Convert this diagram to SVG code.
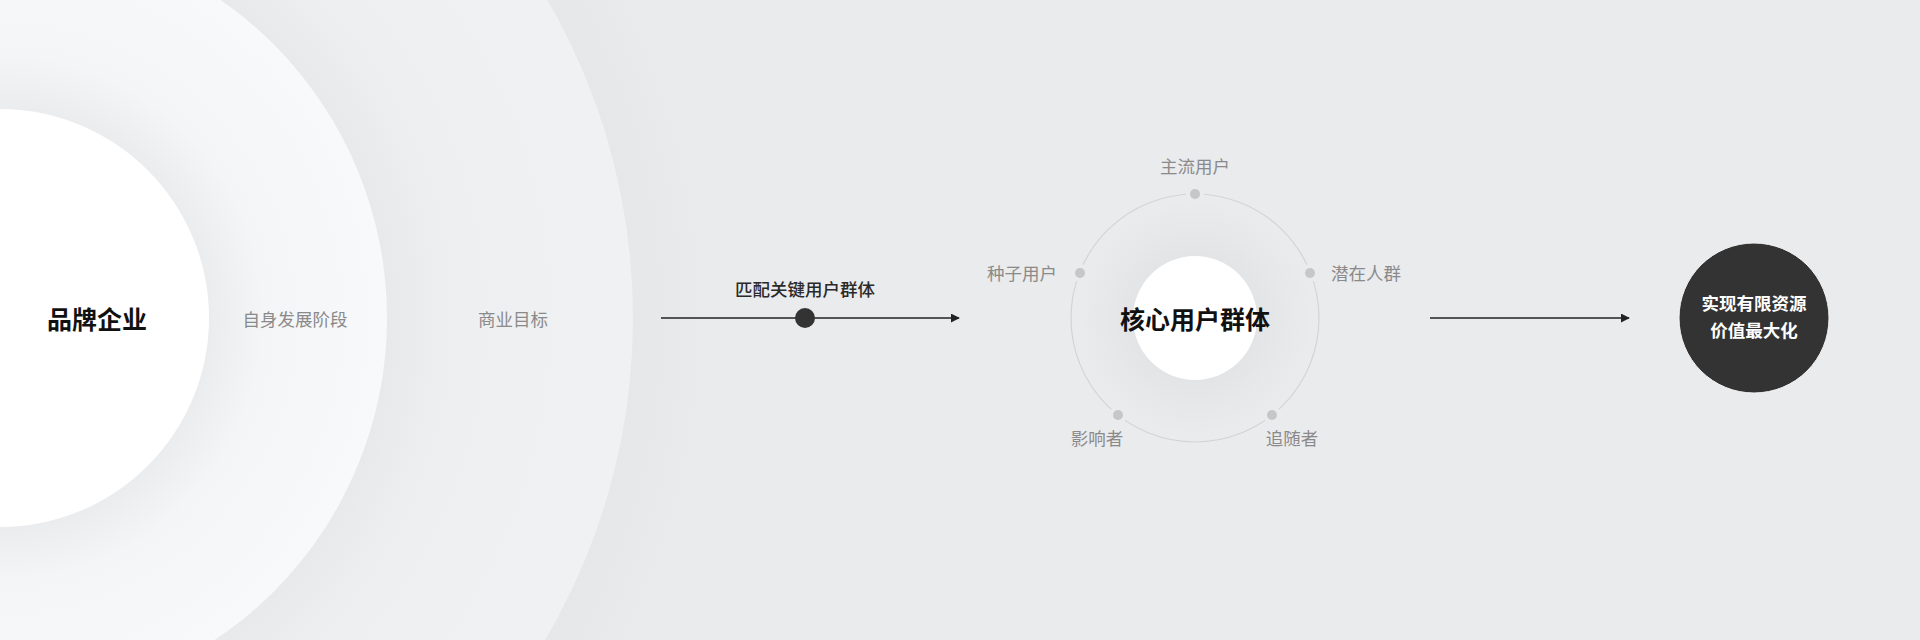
<svg xmlns="http://www.w3.org/2000/svg" width="1920" height="640" viewBox="0 0 1920 640">
  <style>
    text { font-family: "Noto Sans CJK SC", "Noto Sans", sans-serif; text-anchor: middle; dominant-baseline: central; }
    .title { font-size: 25px; font-weight: 700; fill: #111111; }
    .sub { font-size: 17.5px; font-weight: 400; fill: #8a8a8a; }
    .lbl { font-size: 17.5px; font-weight: 500; fill: #2a2a2a; }
    .inv { font-size: 17.5px; font-weight: 700; fill: #ffffff; }
    .conn { stroke: #222222; stroke-width: 1.3; fill: none; }
    .gap { fill: #eaebed; }
    .rdot { fill: #c6c7c9; }
  </style>
  <defs>
    <marker id="arrow" viewBox="0 0 10 10" refX="9" refY="5" markerWidth="9" markerHeight="9" markerUnits="userSpaceOnUse" orient="auto">
      <path d="M0,0 L10,5 L0,10 Z" fill="#222222"/>
    </marker>
    <radialGradient id="gBg" gradientUnits="userSpaceOnUse" cx="0" cy="318" r="720">
      <stop offset="0.87" stop-color="#e6e7e9"/>
      <stop offset="1" stop-color="#eaebed"/>
    </radialGradient>
    <radialGradient id="gR3" gradientUnits="userSpaceOnUse" cx="0" cy="318" r="633">
      <stop offset="0.61" stop-color="#e8e9eb"/>
      <stop offset="0.72" stop-color="#eeeff1"/>
      <stop offset="1" stop-color="#f0f1f3"/>
    </radialGradient>
    <radialGradient id="gR2" gradientUnits="userSpaceOnUse" cx="0" cy="318" r="387">
      <stop offset="0.54" stop-color="#ebecee"/>
      <stop offset="0.68" stop-color="#f4f5f7"/>
      <stop offset="1" stop-color="#f8f9fa"/>
    </radialGradient>
    <radialGradient id="gCore" gradientUnits="userSpaceOnUse" cx="1195" cy="318" r="140">
      <stop offset="0.44" stop-color="#e3e4e6"/>
      <stop offset="0.65" stop-color="#e7e8ea"/>
      <stop offset="0.85" stop-color="#eaebed"/>
      <stop offset="1" stop-color="#eaebed"/>
    </radialGradient>
  </defs>

  <rect x="0" y="0" width="1920" height="640" fill="#eaebed"/>

  <g id="brand-rings">
    <circle cx="0" cy="318" r="720" fill="url(#gBg)"/>
    <circle cx="0" cy="318" r="633" fill="url(#gR3)"/>
    <circle cx="0" cy="318" r="387" fill="url(#gR2)"/>
  </g>

  <g id="node-brand">
    <circle cx="0" cy="318" r="209" fill="#ffffff"/>
    <text class="title" x="97" y="318">品牌企业</text>
  </g>
  <g id="node-stage">
    <text class="sub" x="295" y="318">自身发展阶段</text>
  </g>
  <g id="node-goal">
    <text class="sub" x="513" y="318">商业目标</text>
  </g>

  <g id="connectors">
    <line class="conn" x1="661" y1="318" x2="959" y2="318" marker-end="url(#arrow)"/>
    <circle cx="805" cy="318" r="10" fill="#333333"/>
    <text class="lbl" x="805" y="288">匹配关键用户群体</text>
    <line class="conn" x1="1430" y1="318" x2="1629" y2="318" marker-end="url(#arrow)"/>
  </g>

  <g id="node-core">
    <circle cx="1195" cy="318" r="140" fill="url(#gCore)"/>
    <circle cx="1195" cy="318" r="124" fill="none" stroke="#d3d4d6" stroke-width="1.2"/>
    <circle cx="1195" cy="318" r="62" fill="#ffffff"/>
    <text class="title" x="1195" y="318">核心用户群体</text>
  </g>

  <g id="node-mainstream">
    <circle class="gap" cx="1195" cy="194" r="9"/>
    <circle class="rdot" cx="1195" cy="194" r="5"/>
    <text class="sub" x="1195" y="165">主流用户</text>
  </g>
  <g id="node-seed">
    <circle class="gap" cx="1080" cy="273" r="9"/>
    <circle class="rdot" cx="1080" cy="273" r="5"/>
    <text class="sub" x="1057" y="272" style="text-anchor:end">种子用户</text>
  </g>
  <g id="node-potential">
    <circle class="gap" cx="1310" cy="273" r="9"/>
    <circle class="rdot" cx="1310" cy="273" r="5"/>
    <text class="sub" x="1331" y="272" style="text-anchor:start">潜在人群</text>
  </g>
  <g id="node-influencer">
    <circle class="gap" cx="1118" cy="415" r="9"/>
    <circle class="rdot" cx="1118" cy="415" r="5"/>
    <text class="sub" x="1097" y="437">影响者</text>
  </g>
  <g id="node-follower">
    <circle class="gap" cx="1272" cy="415" r="9"/>
    <circle class="rdot" cx="1272" cy="415" r="5"/>
    <text class="sub" x="1292" y="437">追随者</text>
  </g>

  <g id="node-result">
    <circle cx="1754" cy="318" r="75" fill="#333333" stroke="#f4f4f4" stroke-width="1"/>
    <text class="inv" x="1754" y="302">实现有限资源</text>
    <text class="inv" x="1754" y="329">价值最大化</text>
  </g>
</svg>
